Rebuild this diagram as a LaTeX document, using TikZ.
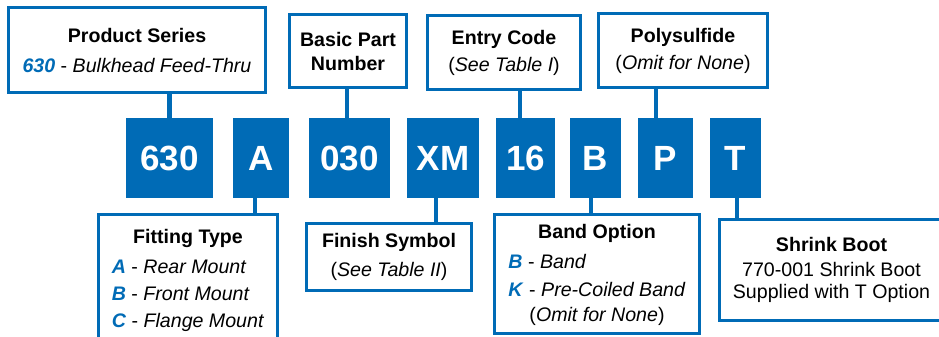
\documentclass[tikz,border=0pt]{standalone}
\usepackage{fontspec}
\setmainfont{Liberation Sans}
\usepackage{xcolor}
\usetikzlibrary{positioning}
\definecolor{partblue}{RGB}{0,107,182}
\newcommand{\pick}[1]{\textcolor{partblue}{\textbf{\textit{#1}}}}

\begin{document}
\begin{tikzpicture}[x=1pt, y=-1pt,
  infobox/.style={rectangle, draw=partblue, line width=3pt,
    fill=white, align=center, inner sep=0pt,
    font=\fontsize{19.6}{27}\selectfont},
  codebox/.style={rectangle, fill=partblue, text=white,
    inner sep=0pt, minimum height=80pt,
    font=\fontsize{35}{40}\selectfont\bfseries},
  link/.style={draw=partblue, line width=4.5pt}
]
\clip (0,0) rectangle (939,337);

% Part number codes
\node[codebox, minimum width=87pt] (c630) at (169.5,158) {630};
\node[codebox, minimum width=56pt] (cA)   at (261,158)   {A};
\node[codebox, minimum width=81pt] (c030) at (349.5,158) {030};
\node[codebox, minimum width=72pt] (cXM)  at (443,158)   {XM};
\node[codebox, minimum width=59pt] (c16)  at (525.5,158) {16};
\node[codebox, minimum width=51pt] (cB)   at (595.5,158) {B};
\node[codebox, minimum width=55pt] (cP)   at (665.5,158) {P};
\node[codebox, minimum width=51pt] (cT)   at (735.5,158) {T};

% Upper boxes
\node[infobox, minimum width=257pt, minimum height=85pt] (series)
  at (137,50)
  {\textbf{Product Series}\\[3pt]
   \pick{630} - \textit{Bulkhead Feed-Thru}};

\node[infobox, minimum width=117pt, minimum height=73pt,
      font=\fontsize{19.6}{24}\selectfont\bfseries] (basic)
  at (348,51)
  {Basic Part\\Number};

\node[infobox, minimum width=153pt, minimum height=73pt] (entry)
  at (504,52.5)
  {\textbf{Entry Code}\\(\textit{See Table I})};

\node[infobox, minimum width=169pt, minimum height=74pt] (poly)
  at (683,50.5)
  {\textbf{Polysulfide}\\(\textit{Omit for None})};

% Lower boxes
\node[infobox, minimum width=179pt, minimum height=131pt] (fitting)
  at (188,280)
  {\begin{tabular}{@{}l@{}}
   \multicolumn{1}{@{}c@{}}{\textbf{Fitting Type}}\\[3pt]
   \pick{A} - \textit{Rear Mount}\\
   \pick{B} - \textit{Front Mount}\\
   \pick{C} - \textit{Flange Mount}
   \end{tabular}};

\node[infobox, minimum width=165pt, minimum height=67pt] (finish)
  at (389,257)
  {\textbf{Finish Symbol}\\[2pt](\textit{See Table II})};

\node[infobox, minimum width=205pt, minimum height=119pt,
      font=\fontsize{19.6}{28}\selectfont] (band)
  at (597,274)
  {\begin{tabular}{@{}l@{}}
   \multicolumn{1}{@{}c@{}}{\textbf{Band Option}}\\[2pt]
   \pick{B} - \textit{Band}\\
   \pick{K} - \textit{Pre-Coiled Band}\\[-3pt]
   \multicolumn{1}{@{}c@{}}{(\textit{Omit for None})}
   \end{tabular}};

\node[infobox, minimum width=224pt, minimum height=101pt,
      font=\fontsize{19.6}{22}\selectfont] (boot)
  at (831.5,270)
  {\textbf{Shrink Boot}\\[3pt]
   770-001 Shrink Boot\\Supplied with T Option};

% Links
\draw[link] (c630.north) -- (c630.north |- series.south);
\draw[link] ([xshift=-2.5pt]c030.north) -- ([xshift=-2.5pt]c030.north |- basic.south);
\draw[link] ([xshift=-5.5pt]c16.north) -- ([xshift=-5.5pt]c16.north |- entry.south);
\draw[link] ([xshift=-9.5pt]cP.north) -- ([xshift=-9.5pt]cP.north |- poly.south);
\draw[link] ([xshift=-6pt]cA.south) -- ([xshift=-6pt]cA.south |- fitting.north);
\draw[link] ([xshift=-7pt]cXM.south) -- ([xshift=-7pt]cXM.south |- finish.north);
\draw[link] ([xshift=-4.5pt]cB.south) -- ([xshift=-4.5pt]cB.south |- band.north);
\draw[link] ([xshift=1.5pt]cT.south) -- ([xshift=1.5pt]cT.south |- boot.north);
\end{tikzpicture}
\end{document}
